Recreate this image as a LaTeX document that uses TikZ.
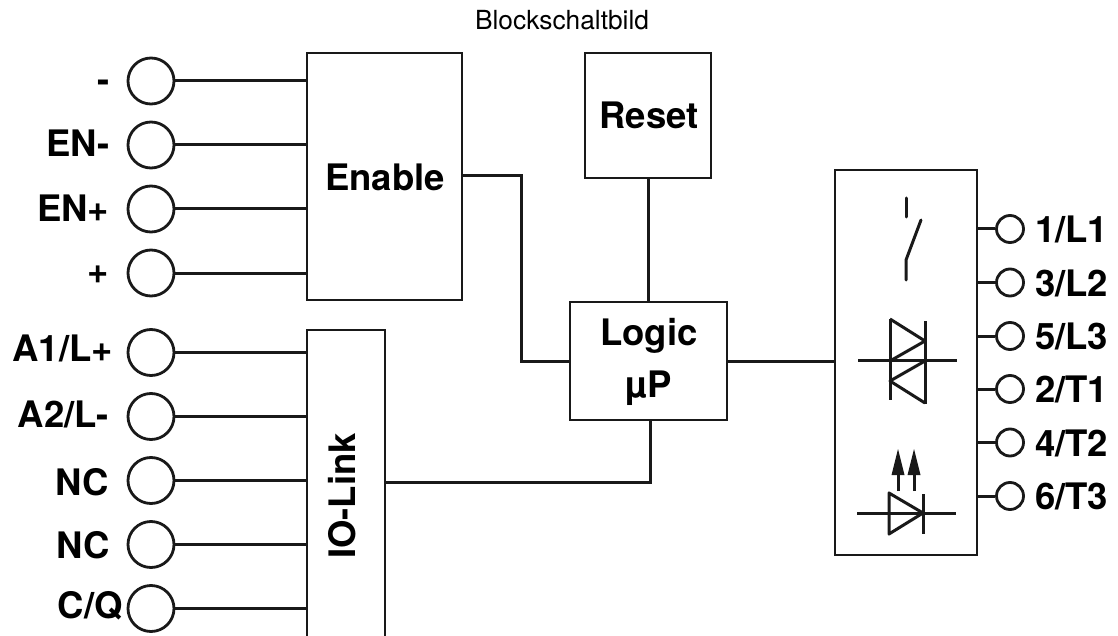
\documentclass[tikz,border=0pt]{standalone}
\usepackage{fontspec}
\setmainfont{TeX Gyre Heros}
\tikzset{
 wire/.style={line width=3pt,draw=black!90},
 blockbox/.style={draw=black!90,line width=2.6pt,fill=none,inner sep=0pt},
 bigpin/.style={circle,draw=black!90,line width=2.8pt,minimum size=46pt,inner sep=0pt},
 smallpin/.style={circle,draw=black!90,line width=2.8pt,minimum size=27pt,inner sep=0pt},
 lab/.style={font=\fontsize{36.5}{36.5}\selectfont\bfseries,inner sep=0pt,anchor=base east},
 rlab/.style={font=\fontsize{36.5}{36.5}\selectfont\bfseries,inner sep=0pt,anchor=base west},
 blocktext/.style={font=\fontsize{36.5}{36.5}\selectfont\bfseries,inner sep=0pt,anchor=base},
}
\begin{document}
\begin{tikzpicture}[x=1pt,y=-1pt]
\useasboundingbox (0,0) rectangle (1118,636);
\node[inner sep=0pt,anchor=base,font=\fontsize{26.3}{26.3}\selectfont] (title) at (562,29.5) {Blockschaltbild};
% blocks
\draw[blockbox] (307,53) rectangle (462,300);
\node[blocktext] (en) at (385,190.5) {Enable};
\coordinate (enE) at (462,176);
\draw[blockbox] (585,53) rectangle (711,178);
\node[blocktext] (rs) at (649,128.5) {Reset};
\coordinate (rsS) at (648,178);
\draw[blockbox] (570,302) rectangle (727,420);
\node[blocktext] (lg) at (649,345) {Logic};
\node[blocktext] (up) at (649,397) {µP};
\coordinate (lgN) at (648,302);
\coordinate (lgW) at (570,361);
\coordinate (lgE) at (727,361);
\coordinate (lgS) at (650,420);
\begin{scope}
\clip (0,0) rectangle (1118,636);
\draw[blockbox] (307,330) rectangle (385,650);
\end{scope}
\node[blocktext,rotate=90,anchor=base] (io) at (355,496) {IO-Link};
\coordinate (ioE) at (385,482);
\draw[blockbox] (835,170) rectangle (977,555);
\coordinate (brW) at (835,361);
% connectors
\draw[wire] (enE) -| (521,361) -- (lgW);
\draw[wire] (rsS) -- (lgN);
\draw[wire] (ioE) -| (lgS);
\draw[wire] (lgE) -- (brW);
% left pins: name, y, text, right end of label, baseline of label
\newcommand{\lpin}[5]{%
 \node[bigpin] (p#1) at (151,#2) {};
 \coordinate (q#1) at (307,#2);
 \draw[wire] (p#1) -- (q#1);
 \node[lab] (t#1) at (#4,#5) {#3};}
\lpin{a}{81}{-}{109.5}{92.5}
\lpin{b}{145}{EN-}{109.5}{157}
\lpin{c}{209}{EN+}{109.5}{221.5}
\lpin{d}{273}{+}{109.5}{283}
\lpin{e}{352.5}{A1/L+}{113}{361.7}
\lpin{f}{416.5}{A2/L-}{109}{427.3}
\lpin{g}{480.5}{NC}{109}{495}
\lpin{h}{544.5}{NC}{110}{558.3}
\lpin{i}{608.5}{C/Q}{123}{618.5}
% right pins
\newcommand{\rpin}[3]{%
 \node[smallpin] (r#1) at (1010,#2) {};
 \coordinate (s#1) at (977,#2);
 \draw[wire] (s#1) -- (r#1);
 \node[rlab] (u#1) at (1035,#2+13.5) {#3};}
\rpin{a}{229}{1/L1}
\rpin{b}{282.5}{3/L2}
\rpin{c}{336}{5/L3}
\rpin{d}{389}{2/T1}
\rpin{e}{442.5}{4/T2}
\rpin{f}{496}{6/T3}
% switch symbol
\draw[wire,line cap=round] (906,198) -- (906,217);
\draw[wire,line cap=round,line join=round] (921,220) -- (906,260) -- (906,280);
% triac
\draw[wire] (858,360) -- (957,360);
\draw[wire] (890,319) -- (890,400);
\draw[wire] (925,321) -- (925,404);
\draw[wire,line join=round] (890,319) -- (925,341) -- (890,361);
\draw[wire,line join=round] (925,361) -- (890,381) -- (925,403);
% photo diode
\draw[wire] (857,513) -- (956,513);
\draw[wire,line join=round] (923,513) -- (889,493) -- (889,534) -- cycle;
\draw[wire] (923,494) -- (923,534);
\draw[wire] (898,491) -- (898,472);
\draw[wire] (914,491) -- (914,472);
\fill[black!90] (898,449) -- (904.5,475) -- (891.5,475) -- cycle;
\fill[black!90] (914,449) -- (920.5,475) -- (907.5,475) -- cycle;
\end{tikzpicture}
\end{document}
